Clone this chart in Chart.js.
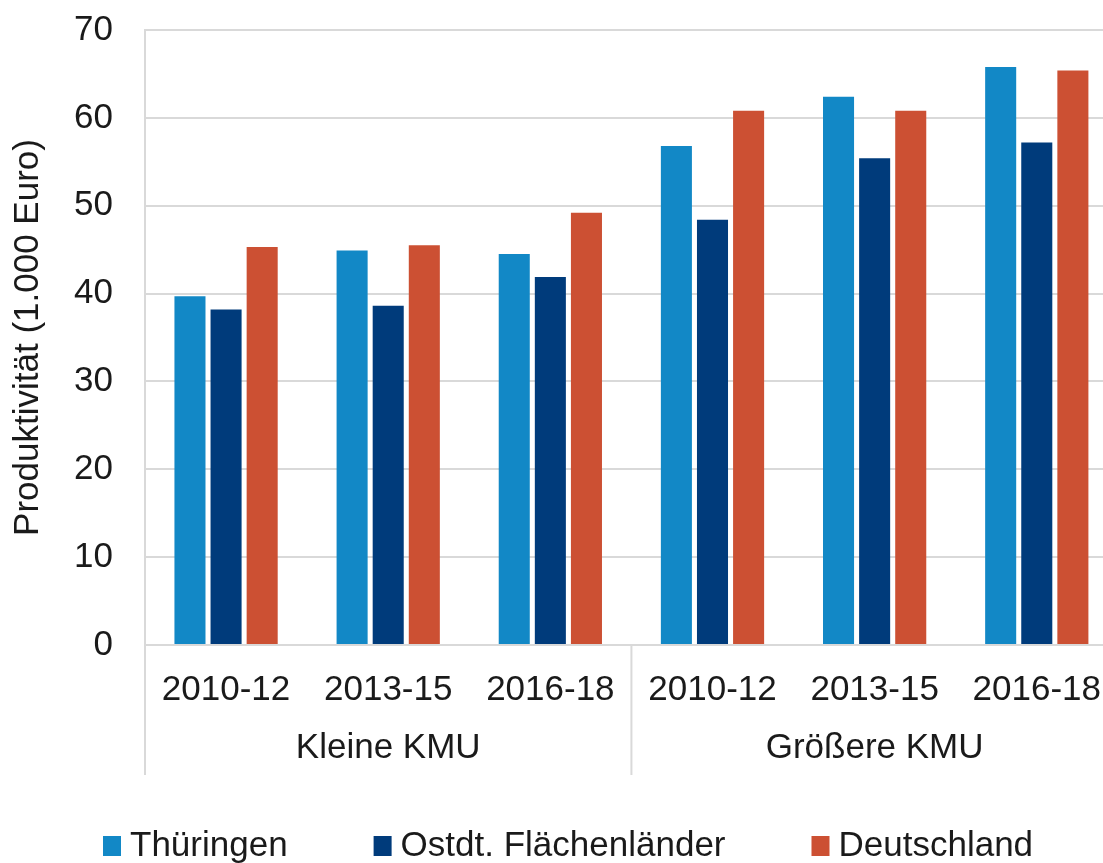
<!DOCTYPE html>
<html>
<head>
<meta charset="utf-8">
<script src="https://cdn.jsdelivr.net/npm/chart.js@4.4.0/dist/chart.umd.min.js"></script>
<style>
  html, body { margin: 0; padding: 0; background: #fff; overflow: hidden; }
  #wrap { width: 1125px; height: 863px; position: relative; }
</style>
</head>
<body>
<div id="wrap"><canvas id="kmuChart"></canvas></div>
<script>
const periods = ["2010-12", "2013-15", "2016-18", "2010-12", "2013-15", "2016-18"];
const groups = ["Kleine KMU", "Größere KMU"];
const seriesNames = ["Thüringen", "Ostdt. Flächenländer", "Deutschland"];
const thueringen = [39.7, 44.9, 44.5, 56.8, 62.4, 65.8];
const ostdt = [38.2, 38.6, 41.9, 48.4, 55.4, 57.2];
const deutschland = [45.3, 45.5, 49.2, 60.8, 60.8, 65.4];
const yTicks = [0, 10, 20, 30, 40, 50, 60, 70];

const colors = ["#1288c6", "#003b7b", "#cc5033"];
const gridColor = "#d9d9d9";
const textColor = "#1a1a1a";
const fontFamily = "'Liberation Sans', Arial, sans-serif";
const fontSize = 35;

// second axis row (group names + separators) and the legend
const groupAxisPlugin = {
  id: "groupAxis",
  afterDraw(chart) {
    const ctx = chart.ctx;
    const x = chart.scales.x;
    const per = periods.length / groups.length;
    ctx.save();
    ctx.strokeStyle = gridColor;
    ctx.lineWidth = 2;
    const edges = [x.left];
    for (let i = 1; i < groups.length; i++) {
      edges.push((x.getPixelForValue(i * per - 1) + x.getPixelForValue(i * per)) / 2);
    }
    edges.push(x.right);
    edges.forEach(px => {
      ctx.beginPath();
      ctx.moveTo(px, x.top);
      ctx.lineTo(px, 775);
      ctx.stroke();
    });

    ctx.fillStyle = textColor;
    ctx.font = fontSize + "px " + fontFamily;
    ctx.textAlign = "center";
    ctx.textBaseline = "middle";
    groups.forEach((g, i) => {
      const cx = (x.getPixelForValue(i * per) + x.getPixelForValue((i + 1) * per - 1)) / 2;
      ctx.fillText(g, cx, 748);
    });

    // legend
    const boxW = 18, boxH = 20, gap = 9, itemPad = 86, ly = 846;
    const widths = chart.data.datasets.map(d => boxW + gap + ctx.measureText(d.label).width);
    let lx = 103;
    ctx.textAlign = "left";
    chart.data.datasets.forEach((d, i) => {
      ctx.fillStyle = d.backgroundColor;
      ctx.fillRect(lx, ly - boxH / 2, boxW, boxH);
      ctx.fillStyle = textColor;
      ctx.fillText(d.label, lx + boxW + gap, ly);
      lx += widths[i] + itemPad;
    });
    ctx.restore();
  }
};

const ctx = document.getElementById("kmuChart").getContext("2d");
new Chart(ctx, {
  type: "bar",
  data: {
    labels: periods,
    datasets: [
      { label: seriesNames[0], data: thueringen, backgroundColor: colors[0] },
      { label: seriesNames[1], data: ostdt, backgroundColor: colors[1] },
      { label: seriesNames[2], data: deutschland, backgroundColor: colors[2] }
    ]
  },
  options: {
    responsive: true,
    maintainAspectRatio: false,
    animation: false,
    layout: { padding: 0 },
    datasets: {
      bar: { categoryPercentage: 0.668, barPercentage: 0.86 }
    },
    plugins: {
      legend: { display: false },
      tooltip: { enabled: false }
    },
    scales: {
      x: {
        grid: { display: false, drawTicks: false },
        border: { display: true, color: gridColor, width: 2 },
        ticks: {
          color: textColor,
          font: { family: fontFamily, size: fontSize },
          padding: 24,
          maxRotation: 0,
          autoSkip: false
        },
        afterFit: scale => { scale.height = 218; }
      },
      y: {
        min: 0,
        max: 70,
        afterBuildTicks: scale => { scale.ticks = yTicks.map(v => ({ value: v })); },
        grid: { color: gridColor, lineWidth: 2, drawTicks: true, tickLength: 23, tickColor: "rgba(0,0,0,0)" },
        border: { display: true, color: gridColor, width: 2 },
        ticks: {
          color: textColor,
          font: { family: fontFamily, size: fontSize },
          padding: 9
        },
        title: {
          display: true,
          text: "Produktivität (1.000 Euro)",
          color: textColor,
          font: { family: fontFamily, size: fontSize },
          padding: { top: 7, bottom: 0 }
        },
        afterFit: scale => { scale.width = 145; }
      }
    }
  },
  plugins: [groupAxisPlugin]
});
</script>
</body>
</html>
